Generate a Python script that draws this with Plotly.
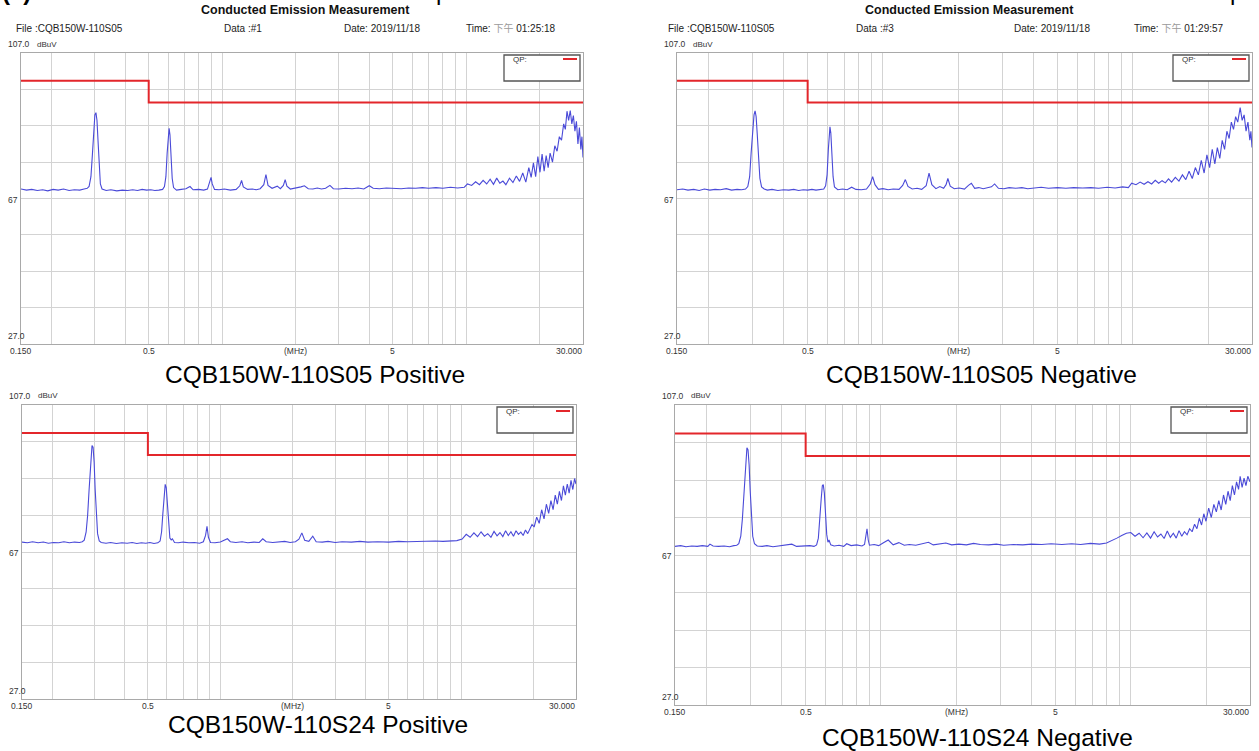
import math
import plotly.graph_objects as go

W, H = 1259, 751

# ---------------- data ----------------
grid_freqs = [0.15, 0.2, 0.3, 0.4, 0.5, 0.6, 0.7, 0.8, 0.9, 1, 2, 3, 4, 5, 6, 7, 8, 9, 10, 20, 30]
grid_labels = ["0.150", "", "", "", "0.5", "", "", "", "", "", "(MHz)", "", "", "5", "", "", "", "", "", "", "30.000"]
y_labels = ["107.0", "67", "27.0"]
y_unit = "dBuV"

limit_freq = [0.15, 0.5, 0.5, 30.0]
limit_level = [99.4, 99.4, 93.4, 93.4]

tl_freq = [0.150, 0.158, 0.166, 0.175, 0.184, 0.193, 0.203, 0.213, 0.224, 0.236, 0.248, 0.261, 0.272, 0.280,
           0.285, 0.290, 0.294, 0.298, 0.301, 0.304, 0.307, 0.310, 0.313, 0.317, 0.322, 0.335, 0.350, 0.37, 0.39,
           0.41, 0.43, 0.45, 0.47, 0.49, 0.51, 0.53, 0.55, 0.57, 0.580, 0.588, 0.595, 0.601, 0.606, 0.611, 0.617,
           0.624, 0.632, 0.65, 0.68, 0.71, 0.738, 0.76, 0.80, 0.84, 0.87, 0.89, 0.90, 0.91, 0.93, 0.97,
           1.02, 1.08, 1.14, 1.18, 1.20, 1.22, 1.27, 1.33, 1.38, 1.43, 1.48, 1.51, 1.54, 1.60, 1.68, 1.73,
           1.78, 1.81, 1.84, 1.90, 1.98, 2.10, 2.17, 2.25, 2.35, 2.45, 2.55, 2.65, 2.76, 2.85, 3.0, 3.2,
           3.4, 3.6, 3.8, 4.0, 4.15, 4.4, 4.7, 5.0, 5.4, 5.8, 6.2, 6.6, 7.0, 7.5, 8.0, 8.6, 9.2, 9.8,
           10.1, 10.5, 10.9, 11.3, 11.7, 12.1, 12.5, 12.9, 13.3, 13.7, 14.1, 14.5, 15.0, 15.5, 16.0, 16.5,
           17.0, 17.5, 18.0, 18.4, 18.8, 19.2, 19.6, 20.0, 20.4, 20.8, 21.2, 21.6, 22.0, 22.5, 23.0, 23.5,
           24.0, 24.5, 25.0, 25.4, 25.8, 26.2, 26.6, 27.0, 27.4, 27.8, 28.2, 28.6, 29.0, 29.4, 29.7, 30.0]
tl_level = [69.6, 69.3, 69.5, 69.2, 69.4, 69.1, 69.5, 69.3, 69.6, 69.2, 69.4, 69.3, 69.6, 69.8,
            70.3, 73.0, 79.0, 86.0, 90.0, 90.6, 88.5, 83.0, 76.0, 71.0, 69.6, 69.2, 69.4, 69.1, 69.3,
            69.2, 69.4, 69.2, 69.5, 69.3, 69.4, 69.2, 69.3, 69.5, 70.3, 73.0, 79.5, 85.0, 86.3, 84.5, 79.0,
            72.5, 70.0, 69.3, 69.5, 69.7, 70.3, 69.4, 69.5, 69.3, 69.6, 71.5, 72.8, 71.0, 69.5, 69.4,
            69.6, 69.3, 69.5, 70.5, 72.0, 70.2, 69.5, 69.6, 69.4, 69.7, 70.8, 73.6, 70.6, 69.8, 70.4, 69.7,
            70.6, 72.2, 70.4, 69.6, 69.8, 70.2, 70.5, 69.7, 69.6, 69.9, 69.6, 69.8, 70.6, 69.7, 69.6, 69.8,
            69.7, 69.9, 69.6, 70.5, 69.8, 69.7, 69.9, 69.8, 69.7, 69.9, 69.8, 70.0, 69.8, 70.0, 69.8, 70.1, 69.9, 70.1,
            71.0, 70.6, 71.6, 70.8, 72.0, 71.0, 72.3, 70.9, 72.6, 71.2, 71.8, 70.8, 72.6, 71.4, 73.2, 71.7,
            74.0, 71.5, 75.5, 72.8, 76.8, 73.0, 78.5, 74.2, 79.2, 74.5, 78.8, 75.5, 79.5, 77.0, 81.5, 80.0,
            84.0, 83.0, 87.5, 86.0, 91.0, 88.5, 91.2, 87.5, 89.8, 85.5, 88.2, 82.0, 86.5, 80.5, 84.0, 78.3]

tr_freq = [0.150, 0.158, 0.166, 0.175, 0.184, 0.193, 0.203, 0.213, 0.224, 0.236, 0.248, 0.261, 0.272, 0.282,
           0.288, 0.293, 0.297, 0.301, 0.305, 0.308, 0.311, 0.314, 0.318, 0.322, 0.327, 0.335, 0.345, 0.36, 0.38, 0.40,
           0.42, 0.44, 0.46, 0.48, 0.50, 0.52, 0.54, 0.56, 0.58, 0.590, 0.598, 0.605, 0.610, 0.614, 0.619, 0.625,
           0.632, 0.64, 0.66, 0.69, 0.72, 0.75, 0.78, 0.82, 0.86, 0.89, 0.91, 0.93, 0.96, 1.0, 1.05, 1.10,
           1.16, 1.20, 1.23, 1.26, 1.31, 1.37, 1.43, 1.49, 1.53, 1.57, 1.63, 1.69, 1.75, 1.79, 1.82, 1.86,
           1.93, 2.02, 2.12, 2.2, 2.26, 2.33, 2.42, 2.52, 2.62, 2.72, 2.80, 2.9, 3.05, 3.2, 3.4, 3.6, 3.8,
           4.0, 4.3, 4.6, 5.0, 5.4, 5.8, 6.3, 6.8, 7.3, 7.9, 8.5, 9.1, 9.6, 9.9, 10.3, 10.7, 11.1, 11.5,
           11.9, 12.3, 12.7, 13.1, 13.5, 13.9, 14.3, 14.8, 15.3, 15.8, 16.3, 16.8, 17.3, 17.8, 18.3, 18.8,
           19.3, 19.8, 20.3, 20.8, 21.3, 21.8, 22.3, 22.8, 23.3, 23.8, 24.3, 24.8, 25.3, 25.8, 26.3, 26.9,
           27.4, 27.9, 28.4, 28.9, 29.4, 29.7, 30.0]
tr_level = [69.4, 69.6, 69.3, 69.5, 69.2, 69.6, 69.3, 69.5, 69.4, 69.7, 69.3, 69.5, 69.4, 69.6,
            70.3, 73.0, 79.5, 86.0, 90.0, 91.1, 89.5, 85.0, 78.5, 72.5, 70.2, 69.6, 69.3, 69.5, 69.2, 69.4,
            69.3, 69.5, 69.2, 69.4, 69.3, 69.5, 69.3, 69.4, 69.6, 70.5, 73.5, 80.5, 85.5, 86.7, 85.0, 79.5,
            73.0, 70.2, 69.4, 69.6, 69.4, 70.1, 69.5, 69.4, 69.6, 71.0, 73.0, 70.8, 69.5, 69.7, 69.4, 69.6,
            69.5, 70.6, 72.2, 70.3, 69.6, 69.8, 69.5, 70.5, 74.0, 70.8, 69.7, 70.3, 69.8, 70.8, 72.5, 70.4,
            69.7, 69.9, 69.6, 70.6, 71.2, 69.8, 70.0, 69.7, 69.9, 70.2, 71.0, 69.8, 69.7, 70.0, 69.8, 70.0, 69.7,
            69.9, 70.1, 69.8, 70.0, 69.8, 70.0, 69.9, 70.0, 69.8, 70.1, 69.9, 70.2, 70.0, 71.2, 70.8, 71.5, 70.9, 71.6,
            71.0, 72.0, 71.2, 71.9, 71.3, 72.4, 71.5, 72.8, 71.8, 73.5, 72.2, 74.5, 72.5, 75.5, 73.5, 77.5,
            74.0, 79.0, 75.5, 80.5, 76.5, 81.0, 78.0, 83.0, 80.5, 85.5, 83.5, 88.0, 86.0, 89.5, 88.0, 92.0,
            88.5, 90.0, 85.5, 88.0, 83.0, 85.5, 81.0]

bl_freq = [0.150, 0.158, 0.166, 0.175, 0.184, 0.193, 0.203, 0.213, 0.224, 0.236, 0.248, 0.26, 0.267, 0.272,
           0.277, 0.281, 0.285, 0.288, 0.291, 0.293, 0.296, 0.299, 0.302, 0.305, 0.309, 0.314, 0.32, 0.335, 0.35,
           0.37, 0.39, 0.41, 0.43, 0.45, 0.47, 0.49, 0.51, 0.53, 0.55, 0.562, 0.570, 0.577, 0.584, 0.590, 0.596,
           0.602, 0.609, 0.617, 0.625, 0.632, 0.645, 0.67, 0.70, 0.74, 0.78, 0.82, 0.85, 0.868, 0.88, 0.892,
           0.91, 0.95, 1.0, 1.04, 1.07, 1.10, 1.16, 1.23, 1.30, 1.38, 1.45, 1.50, 1.55, 1.65, 1.75, 1.85,
           1.95, 2.05, 2.12, 2.18, 2.24, 2.33, 2.42, 2.5, 2.65, 2.8, 3.0, 3.2, 3.5, 3.8, 4.1, 4.5, 5.0, 5.5,
           6.0, 6.6, 7.2, 7.8, 8.4, 9.0, 9.6, 10.1, 10.5, 10.9, 11.3, 11.7, 12.1, 12.5, 12.9, 13.3, 13.7,
           14.1, 14.5, 14.9, 15.3, 15.7, 16.1, 16.5, 16.9, 17.3, 17.7, 18.1, 18.5, 18.9, 19.3, 19.7, 20.1,
           20.6, 21.1, 21.6, 22.1, 22.6, 23.1, 23.6, 24.1, 24.6, 25.1, 25.6, 26.1, 26.6, 27.1, 27.6, 28.1,
           28.6, 29.1, 29.6, 30.0]
bl_level = [69.7, 69.5, 69.8, 69.5, 69.7, 69.4, 69.6, 69.5, 69.8, 69.5, 69.7, 69.6, 69.8, 70.2,
            72.5, 77.0, 84.0, 90.0, 94.5, 96.0, 95.5, 91.5, 84.0, 77.0, 72.0, 70.0, 69.6, 69.4, 69.6,
            69.3, 69.5, 69.4, 69.6, 69.3, 69.5, 69.4, 69.6, 69.3, 69.5, 70.0, 72.5, 77.5, 83.0, 85.4, 84.5,
            80.0, 74.0, 70.8, 70.3, 70.6, 69.6, 69.5, 69.7, 69.5, 69.6, 69.4, 69.8, 71.5, 74.0, 71.0,
            69.6, 69.5, 69.7, 70.2, 70.6, 69.8, 69.6, 69.8, 69.5, 69.7, 69.6, 70.6, 69.8, 69.6, 69.8, 69.9,
            69.6, 69.8, 70.5, 72.2, 70.2, 69.9, 71.3, 69.8, 69.7, 69.9, 69.6, 69.8, 69.7, 69.9, 69.7, 69.8, 69.7, 69.9,
            69.8, 69.9, 69.8, 70.0, 69.9, 70.0, 70.1, 70.5, 71.8, 71.0, 72.2, 71.2, 72.5, 71.3, 72.0, 71.0, 72.6,
            71.4, 72.3, 71.2, 72.8, 71.5, 72.5, 71.3, 72.8, 71.8, 72.4, 71.5, 73.0, 72.0, 73.5, 74.5, 73.8,
            76.5, 74.8, 78.5, 76.0, 80.0, 77.5, 81.0, 78.5, 82.5, 80.0, 83.5, 81.0, 85.0, 82.5, 85.5, 83.0,
            86.5, 84.0, 87.0, 85.5]

br_freq = [0.150, 0.158, 0.166, 0.175, 0.184, 0.193, 0.203, 0.207, 0.213, 0.224, 0.236, 0.248, 0.258, 0.265,
           0.270, 0.275, 0.279, 0.283, 0.286, 0.289, 0.291, 0.294, 0.297, 0.300, 0.303, 0.307, 0.312, 0.32, 0.335,
           0.35, 0.37, 0.39, 0.41, 0.44, 0.46, 0.48, 0.50, 0.52, 0.54, 0.553, 0.562, 0.570, 0.577, 0.583, 0.588,
           0.594, 0.600, 0.607, 0.614, 0.62, 0.63, 0.65, 0.68, 0.71, 0.73, 0.76, 0.80, 0.84, 0.86, 0.87,
           0.88, 0.89, 0.90, 0.94, 0.98, 1.02, 1.07, 1.12, 1.18, 1.24, 1.30, 1.38, 1.46, 1.55, 1.62, 1.72,
           1.82, 1.92, 2.05, 2.2, 2.35, 2.5, 2.7, 2.9, 3.1, 3.4, 3.7, 4.0, 4.4, 4.8, 5.3, 5.8, 6.3, 6.9, 7.5,
           8.0, 8.4, 8.8, 9.2, 9.6, 10.0, 10.4, 10.8, 11.2, 11.6, 12.0, 12.4, 12.8, 13.2, 13.6, 14.0, 14.4,
           14.8, 15.2, 15.6, 16.0, 16.4, 16.8, 17.2, 17.6, 18.0, 18.4, 18.8, 19.2, 19.6, 20.0, 20.5, 21.0,
           21.5, 22.0, 22.5, 23.0, 23.5, 24.0, 24.5, 25.0, 25.5, 26.0, 26.5, 27.0, 27.4, 27.9, 28.4, 28.9,
           29.4, 30.0]
br_level = [69.3, 69.5, 69.2, 69.4, 69.3, 69.5, 69.3, 69.9, 69.4, 69.3, 69.4, 69.2, 69.5, 69.6,
            70.0, 72.0, 76.5, 83.5, 89.5, 94.0, 95.6, 95.0, 91.0, 84.0, 77.0, 72.0, 70.0, 69.4, 69.3,
            69.5, 69.2, 69.4, 69.6, 69.9, 69.3, 69.4, 69.3, 69.5, 69.3, 69.7, 71.5, 76.0, 82.0, 85.5, 85.8,
            83.5, 78.0, 72.5, 70.4, 71.0, 69.7, 69.4, 69.6, 69.3, 70.0, 69.5, 69.7, 69.4, 69.8, 71.5,
            74.0, 71.0, 69.6, 69.8, 69.5, 70.2, 71.0, 69.7, 70.3, 69.6, 69.8, 69.6, 69.9, 70.4, 69.7, 69.9,
            70.2, 69.7, 69.9, 69.7, 70.1, 69.8, 69.7, 69.9, 69.6, 69.8, 69.7, 69.9, 69.8, 70.0, 69.8, 70.0, 69.8, 70.1, 69.9,
            70.2, 70.8, 71.5, 72.2, 72.8, 73.0, 72.0, 72.8, 71.6, 72.9, 71.5, 73.2, 71.8, 72.6, 71.4, 73.4, 71.7,
            72.8, 71.5, 73.5, 72.0, 73.2, 72.4, 74.0, 73.2, 75.2, 74.0, 76.8, 75.0, 78.0, 76.0, 79.5, 77.0,
            80.5, 78.5, 81.5, 79.0, 83.0, 80.5, 84.0, 81.5, 85.5, 83.0, 86.5, 84.5, 88.0, 85.0, 87.5, 85.5,
            88.0, 86.5]

captions = ["CQB150W-110S05 Positive", "CQB150W-110S05 Negative",
            "CQB150W-110S24 Positive", "CQB150W-110S24 Negative"]
header_title = "Conducted Emission Measurement"
header_file = ["File :CQB150W-110S05", "File :CQB150W-110S05"]
header_data = ["Data :#1", "Data :#3"]
header_date = ["Date: 2019/11/18", "Date: 2019/11/18"]
header_time = ["01:25:18", "01:29:57"]
legend_label = "QP:"

series = [(tl_freq, tl_level), (tr_freq, tr_level), (bl_freq, bl_level), (br_freq, br_level)]

# ---------------- layout geometry (pixels) ----------------
geom = [(21, 583, 53, 344), (677, 1252, 53, 344), (22, 576, 405, 699), (675, 1250, 405, 705)]
caption_pos = [(315, 374), (981, 374), (318, 724), (977, 737)]

FONT = "Liberation Sans, Arial, Noto Sans CJK SC, sans-serif"
BLUE = "#4a4ad8"
RED = "#e3262b"
GRID = "#d3d3d3"
FRAME = "#a9a9a9"


def px(x):
    return x / W


def py(y):
    return 1 - y / H


fig = go.Figure()
layout = dict(width=W, height=H, margin=dict(l=0, r=0, t=0, b=0),
              paper_bgcolor="white", plot_bgcolor="white", showlegend=False,
              font=dict(family=FONT, color="#222"))
annotations = []
shapes = []

for i, (fx, fy) in enumerate(series):
    s = "" if i == 0 else str(i + 1)
    xa, ya = "x" + s, "y" + s
    l, r, t, b = geom[i]
    fig.add_trace(go.Scatter(x=fx, y=fy, xaxis=xa, yaxis=ya, mode="lines",
                             line=dict(color=BLUE, width=1.1), hoverinfo="skip"))
    fig.add_trace(go.Scatter(x=limit_freq, y=limit_level, xaxis=xa, yaxis=ya, mode="lines",
                             line=dict(color=RED, width=2), hoverinfo="skip"))
    layout["xaxis" + s] = dict(domain=[px(l), px(r)], anchor=ya, type="log",
                               range=[math.log10(0.15), math.log10(30)],
                               tickvals=grid_freqs, showticklabels=False, ticks="",
                               showgrid=True, gridcolor=GRID, gridwidth=1,
                               showline=True, linecolor=FRAME, linewidth=1.2, mirror=True,
                               zeroline=False, fixedrange=True)
    layout["yaxis" + s] = dict(domain=[py(b), py(t)], anchor=xa, range=[27, 107],
                               tick0=27, dtick=10, showticklabels=False, ticks="",
                               showgrid=True, gridcolor=GRID, gridwidth=1,
                               showline=True, linecolor=FRAME, linewidth=1.2, mirror=True,
                               zeroline=False, fixedrange=True)
    if i < 2:
        shapes.append(dict(type="line", xref=xa + " domain", yref=ya, x0=0, x1=1, y0=67, y1=67,
                           line=dict(color="#d3e6a8", width=1), layer="below"))

    # x tick labels
    for f, lab in zip(grid_freqs, grid_labels):
        if not lab:
            continue
        last = f == grid_freqs[-1]
        annotations.append(dict(text=lab, x=math.log10(f), xref=xa, y=0, yref=ya + " domain",
                                yanchor="top", yshift=0, xanchor="right" if last else "center",
                                xshift=1 if last else 0, showarrow=False,
                                font=dict(size=8.5, color="#333")))
    # y labels
    annotations.append(dict(text=y_labels[0], x=0, xref=xa + " domain", xshift=-15, xanchor="left",
                            y=1, yref=ya + " domain", yanchor="middle", yshift=9, showarrow=False,
                            font=dict(size=8.5, color="#333")))
    annotations.append(dict(text=y_unit, x=0, xref=xa + " domain", xshift=14, xanchor="left",
                            y=1, yref=ya + " domain", yanchor="middle", yshift=9, showarrow=False,
                            font=dict(size=8, color="#333")))
    annotations.append(dict(text=y_labels[1], x=0, xref=xa + " domain", xshift=-15, xanchor="left",
                            y=67, yref=ya, yanchor="middle", yshift=-1, showarrow=False,
                            font=dict(size=8.5, color="#333")))
    annotations.append(dict(text=y_labels[2], x=0, xref=xa + " domain", xshift=-15, xanchor="left",
                            y=0, yref=ya + " domain", yanchor="middle", yshift=8, showarrow=False,
                            font=dict(size=8.5, color="#333")))

    # legend box
    shapes.append(dict(type="rect", xref="paper", yref="paper",
                       x0=px(r - 79), x1=px(r - 3), y0=py(t + 28), y1=py(t + 2),
                       line=dict(color="#555", width=1.3), fillcolor="white", layer="above"))
    shapes.append(dict(type="line", xref="paper", yref="paper",
                       x0=px(r - 20), x1=px(r - 6), y0=py(t + 6), y1=py(t + 6),
                       line=dict(color=RED, width=2)))
    annotations.append(dict(text=legend_label, x=px(r - 72), xref="paper", xanchor="left",
                            y=py(t + 6), yref="paper", yanchor="middle", showarrow=False,
                            font=dict(size=8, color="#333")))

    # caption
    cx, cy = caption_pos[i]
    annotations.append(dict(text=captions[i], x=px(cx), y=py(cy), xref="paper", yref="paper",
                            xanchor="center", yanchor="middle", showarrow=False,
                            font=dict(size=24.5, color="#000")))

# headers for the top panels
header_x = [(305, 14, 222, 342, 464), (969, 666, 854, 1012, 1132)]
for j in range(2):
    tx, fxp, dxp, dtx, tmx = header_x[j]
    annotations.append(dict(text="<b>" + header_title + "</b>", x=px(tx), y=py(10), xref="paper",
                            yref="paper", xanchor="center", yanchor="middle", showarrow=False,
                            font=dict(size=12.5, color="#111")))
    for xx, txt in [(fxp, header_file[j]), (dxp, header_data[j]), (dtx, header_date[j]),
                    (tmx, "Time: <span style='color:#9a9a9a'>下午</span> " + header_time[j])]:
        annotations.append(dict(text=txt, x=px(xx), y=py(28), xref="paper", yref="paper",
                                xanchor="left", yanchor="middle", showarrow=False,
                                font=dict(size=10, color="#222")))

# clipped fragments of the line above the figure
for xx, txt in [(0, "<b>(a)</b>"), (434, "p"), (1228, "p")]:
    annotations.append(dict(text=txt, x=px(xx), y=1, xref="paper", yref="paper", xanchor="left",
                            yanchor="bottom", yshift=-7, showarrow=False,
                            font=dict(size=24, color="#000")))

layout["annotations"] = annotations
layout["shapes"] = shapes
fig.update_layout(**layout)
fig.write_html("out.html", config={"displayModeBar": False},
               post_script="document.body.style.margin='0';document.body.style.overflow='hidden';")
